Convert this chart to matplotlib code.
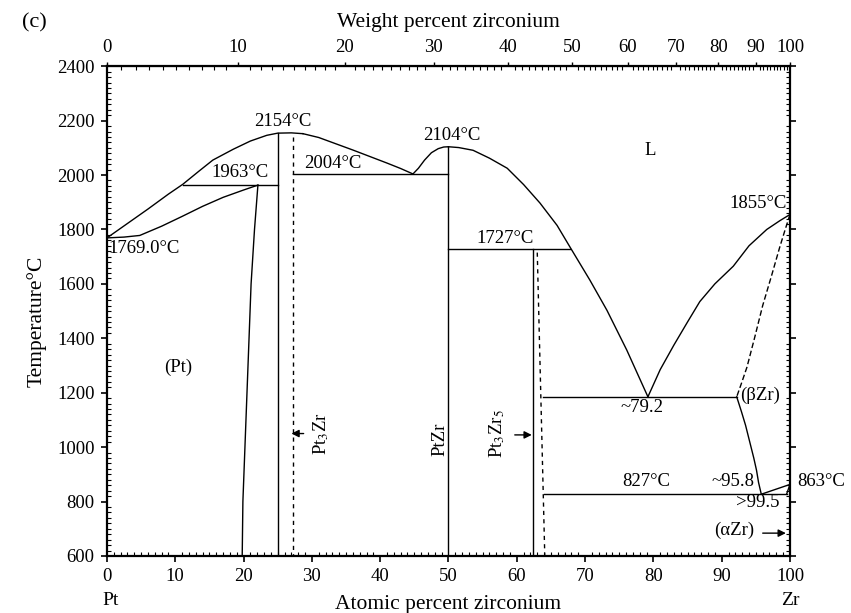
import numpy as np
import matplotlib
matplotlib.use('Agg')
import matplotlib.pyplot as plt
from matplotlib.ticker import MultipleLocator

plt.rcParams['font.family'] = ['Liberation Serif', 'DejaVu Serif']
plt.rcParams['mathtext.fontset'] = 'stix'
plt.rcParams['font.size'] = 13.5

M_PT, M_ZR = 195.08, 91.224

# ── Phase boundaries (atomic % Zr, temperature °C) ──
liq_pt_x = [0, 3, 6, 9, 11.1, 13.5, 15.5, 18.5, 21, 23.4, 25, 27, 28.7]
liq_pt_t = [1769, 1822, 1875, 1930, 1966, 2015, 2055, 2095, 2125, 2146, 2154, 2155, 2152]
sol_pt_x = [0, 2.5, 4.8, 8, 11, 14, 17, 20, 22.1]
sol_pt_t = [1769, 1772, 1778, 1812, 1848, 1885, 1918, 1945, 1963]
solv_pt_x = [22.1, 21.6, 21.1, 20.8, 20.5, 20.2, 19.9, 19.8]
solv_pt_t = [1963, 1800, 1600, 1400, 1200, 1000, 800, 600]
liq_mid_x = [28.7, 31, 33.5, 36, 38.5, 41, 43, 44.8]
liq_mid_t = [2152, 2138, 2115, 2092, 2068, 2044, 2024, 2004]
liq_ptzr_x = [44.8, 45.6, 46.5, 47.5, 48.5, 49.3, 50]
liq_ptzr_t = [2004, 2025, 2055, 2082, 2097, 2103, 2104]
liq_right_x = [50, 51.5, 53.6, 56, 58.6, 61, 63.4, 65.9, 67.8, 70.7, 73.2, 76.1, 79.2]
liq_right_t = [2104, 2101, 2091, 2062, 2025, 1965, 1897, 1815, 1735, 1614, 1503, 1357, 1185]
liq_zr_x = [79.2, 81, 83, 85, 86.8, 89, 91.7, 94, 96.6, 98.5, 100]
liq_zr_t = [1185, 1285, 1375, 1460, 1535, 1600, 1665, 1740, 1800, 1832, 1855]
sol_zr_x = [100, 99.3, 98.5, 97.3, 96, 94.8, 93.7, 92.9, 92.2]
sol_zr_t = [1855, 1800, 1735, 1630, 1520, 1400, 1294, 1235, 1185]
solv_bzr_x = [92.2, 92.9, 93.5, 94.1, 94.7, 95.1, 95.4, 95.8]
solv_bzr_t = [1185, 1130, 1080, 1020, 960, 915, 870, 827]
azr_x1 = [95.8, 100]
azr_t1 = [827, 863]
azr_x2 = [99.5, 100]
azr_t2 = [827, 863]

# horizontal invariant lines: (x_start, x_end, T)
isotherms = [(11.1, 25, 1963), (27.3, 50, 2004), (50, 67.8, 1727),
             (63.8, 92.2, 1185), (64.0, 99.5, 827)]
# compound lines: (x, T_top, x_bottom, T_bottom)
compounds_solid = [(25, 2154, 25, 600), (50, 2104, 50, 600), (62.4, 1727, 62.4, 600)]
compounds_dashed = [(27.3, 2140, 27.3, 600), (63.0, 1715, 64.1, 600)]


def at_to_wt(a):
    a = np.asarray(a, dtype=float)
    return a * M_ZR / (a * M_ZR + (100 - a) * M_PT) * 100


def wt_to_at(w):
    w = np.asarray(w, dtype=float)
    return (w / M_ZR) / (w / M_ZR + (100 - w) / M_PT) * 100


fig = plt.figure(figsize=(8.51, 6.13), dpi=100)
ax = fig.add_axes([0.1257, 0.093, 0.8026, 0.799])

lw = 1.0
for xs, ts in [(liq_pt_x, liq_pt_t), (sol_pt_x, sol_pt_t), (solv_pt_x, solv_pt_t),
               (liq_mid_x, liq_mid_t), (liq_ptzr_x, liq_ptzr_t),
               (liq_right_x, liq_right_t), (liq_zr_x, liq_zr_t),
               (solv_bzr_x, solv_bzr_t), (azr_x1, azr_t1), (azr_x2, azr_t2)]:
    ax.plot(xs, ts, color='black', lw=lw)
ax.plot(sol_zr_x, sol_zr_t, color='black', lw=lw, ls=(0, (4, 2)))

for x0, x1, t in isotherms:
    ax.plot([x0, x1], [t, t], color='black', lw=lw)
for x0, t0, x1, t1 in compounds_solid:
    ax.plot([x0, x1], [t0, t1], color='black', lw=lw)
for x0, t0, x1, t1 in compounds_dashed:
    ax.plot([x0, x1], [t0, t1], color='black', lw=lw, ls=(0, (3, 3)))

ax.set_xlim(0, 100)
ax.set_ylim(600, 2400)
ax.set_xticks(range(0, 101, 10))
ax.set_yticks(range(600, 2401, 200))
ax.xaxis.set_minor_locator(MultipleLocator(1))
ax.yaxis.set_minor_locator(MultipleLocator(20))
ax.tick_params(which='major', direction='out', length=4, width=1.2, right=True, pad=5)
ax.tick_params(which='minor', direction='in', length=3, width=0.8, right=True)
for s in ax.spines.values():
    s.set_linewidth(1.6)

ax.set_ylabel('Temperature°C', fontsize=15.5)
ax.yaxis.set_label_coords(-0.089, 0.48)
ax.set_xlabel('Atomic percent zirconium', fontsize=15.5, labelpad=7)
ax.text(0.6, -0.09, 'Pt', transform=ax.get_xaxis_transform(), ha='center', va='center',
        fontsize=14)
ax.text(100, -0.09, 'Zr', transform=ax.get_xaxis_transform(), ha='center', va='center',
        fontsize=14)

secax = ax.secondary_xaxis('top', functions=(at_to_wt, wt_to_at))
secax.set_xticks(range(0, 101, 10))
secax.xaxis.set_minor_locator(MultipleLocator(1))
secax.tick_params(which='major', direction='out', length=3, width=1.0, pad=4)
secax.tick_params(which='minor', direction='in', length=3, width=0.8)
secax.set_xlabel('Weight percent zirconium', fontsize=15.5, labelpad=9)
fig.text(0.026, 0.978, '(c)', fontsize=16, va='top')

# ── Annotations ──
labels = [
    (25.8, 2195, '2154°C', 'center'),
    (19.5, 2008, '1963°C', 'center'),
    (33.1, 2043, '2004°C', 'center'),
    (0.2, 1731, '1769.0°C', 'left'),
    (50.5, 2147, '2104°C', 'center'),
    (58.3, 1768, '1727°C', 'center'),
    (79.5, 2091, 'L', 'center'),
    (99.6, 1896, '1855°C', 'right'),
    (10.4, 1294, '(Pt)', 'center'),
    (78.3, 1147, '~79.2', 'center'),
    (95.6, 1191, '(βZr)', 'center'),
    (79.0, 872, '827°C', 'center'),
    (91.7, 872, '~95.8', 'center'),
    (95.3, 798, '>99.5', 'center'),
    (91.8, 695, '(αZr)', 'center'),
]
for x, t, s, ha in labels:
    ax.text(x, t, s, ha=ha, va='center')
ax.text(101, 872, '863°C', ha='left', va='center', clip_on=False)

ax.text(31.4, 1050, 'Pt$_3$Zr', rotation=90, ha='center', va='center')
ax.text(48.8, 1030, 'PtZr', rotation=90, ha='center', va='center')
ax.text(57.1, 1050, 'Pt$_3$Zr$_5$', rotation=90, ha='center', va='center')

arrow = dict(arrowstyle='-|>', color='black', lw=1.0, mutation_scale=11)
ax.annotate('', xy=(26.6, 1050), xytext=(29.2, 1050), arrowprops=arrow)
ax.annotate('', xy=(62.6, 1045), xytext=(59.3, 1045), arrowprops=arrow)
ax.annotate('', xy=(99.8, 684), xytext=(95.6, 684), arrowprops=arrow)

fig.savefig('out.png', dpi=100, facecolor='white')
